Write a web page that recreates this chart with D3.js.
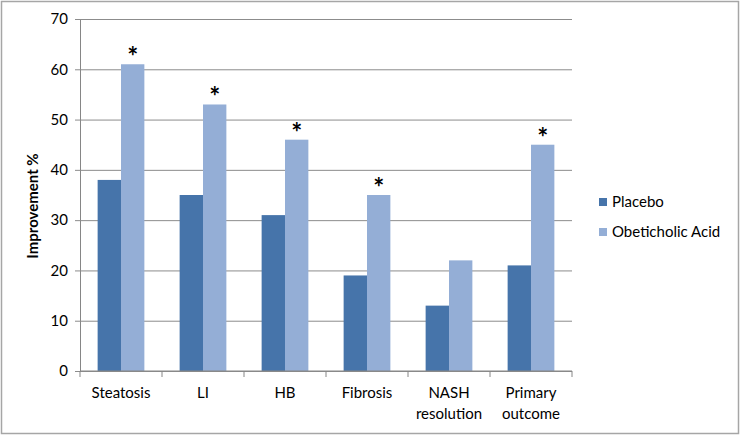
<!DOCTYPE html>
<html>
<head>
<meta charset="utf-8">
<script src="https://cdn.jsdelivr.net/npm/d3@7"></script>
<style>
  body { margin: 0; background: #fff; }
  svg text { font-family: Lato, "Open Sans", sans-serif; fill: #000; }
</style>
</head>
<body>
<svg id="chart" width="741" height="435"></svg>
<script>
// data
const categories = ["Steatosis", "LI", "HB", "Fibrosis", "NASH resolution", "Primary outcome"];
const placebo = [38, 35, 31, 19, 13, 21];
const obeticholic = [61, 53, 46, 35, 22, 45];
const significant = [true, true, true, true, false, true];
const seriesNames = ["Placebo", "Obeticholic Acid"];
const yTicks = [0, 10, 20, 30, 40, 50, 60, 70];

const colors = ["#4674aa", "#94aed6"];

var svg = d3.select("#chart");

// outer frame
svg.append("rect")
    .attr("x", 1.5).attr("y", 1.5)
    .attr("width", 737).attr("height", 432)
    .attr("fill", "#fff")
    .attr("stroke", "#a6a6a6")
    .attr("stroke-width", 1.5);

var margin = {top: 19, left: 80, right: 169, bottom: 64};
var width = 741 - margin.left - margin.right,
    height = 435 - margin.top - margin.bottom;

var g = svg.append("g")
    .attr("transform", "translate(" + margin.left + "," + margin.top + ")");

var x = d3.scaleBand()
    .domain(categories)
    .range([0, width])
    .paddingInner(0.43)
    .paddingOuter(0.215);

var xs = d3.scaleBand()
    .domain([0, 1])
    .range([0, x.bandwidth()]);

var y = d3.scaleLinear()
    .domain([0, 70])
    .range([height, 0]);

// gridlines + y axis
var yAxis = g.append("g")
    .call(d3.axisLeft(y).tickValues(yTicks).tickSize(-width).tickPadding(12));
yAxis.select(".domain").attr("stroke", "#868686");
yAxis.selectAll(".tick line")
    .attr("stroke", "#8c8c8c")
    .attr("x1", -5);
yAxis.selectAll(".tick text")
    .attr("font-size", 15);

// bars
var data = categories.map(function(c, i) {
    return {cat: c, vals: [placebo[i], obeticholic[i]], star: significant[i]};
});

var groups = g.selectAll(".grp")
    .data(data)
  .enter().append("g")
    .attr("class", "grp")
    .attr("transform", function(d) { return "translate(" + x(d.cat) + ",0)"; });

groups.selectAll("rect")
    .data(function(d) { return d.vals.map(function(v, k) { return {k: k, v: v}; }); })
  .enter().append("rect")
    .attr("x", function(d) { return xs(d.k); })
    .attr("width", xs.bandwidth())
    .attr("y", function(d) { return y(d.v); })
    .attr("height", function(d) { return height - y(d.v); })
    .attr("fill", function(d) { return colors[d.k]; });

groups.filter(function(d) { return d.star; })
  .append("text")
    .attr("x", xs(1) + xs.bandwidth() / 2)
    .attr("y", function(d) { return y(d.vals[1]) + 2; })
    .attr("text-anchor", "middle")
    .attr("font-size", 26)
    .attr("font-weight", "bold")
    .text("*");

// x axis baseline with ticks between categories
var xAxis = g.append("g")
    .attr("transform", "translate(0," + height + ")");
xAxis.append("line")
    .attr("x1", 0).attr("x2", width)
    .attr("stroke", "#868686");
xAxis.selectAll(".sep")
    .data(d3.range(categories.length + 1))
  .enter().append("line")
    .attr("x1", function(i) { return i * x.step(); })
    .attr("x2", function(i) { return i * x.step(); })
    .attr("y1", 0).attr("y2", 6)
    .attr("stroke", "#868686");

xAxis.selectAll(".lbl")
    .data(categories)
  .enter().append("text")
    .attr("text-anchor", "middle")
    .attr("font-size", 15)
    .attr("transform", function(d) { return "translate(" + (x(d) + x.bandwidth() / 2) + ",27)"; })
    .selectAll("tspan")
    .data(function(d) { return d.split(" "); })
  .enter().append("tspan")
    .attr("x", 0)
    .attr("dy", function(d, i) { return i ? 21 : 0; })
    .text(function(d) { return d; });

// y title
g.append("text")
    .attr("transform", "translate(-42," + (height / 2 + 11) + ") rotate(-90)")
    .attr("text-anchor", "middle")
    .attr("font-size", 15)
    .attr("font-weight", "bold")
    .text("Improvement %");

// legend
var legend = svg.append("g")
    .attr("transform", "translate(599,202)")
  .selectAll("g")
    .data(seriesNames)
  .enter().append("g")
    .attr("transform", function(d, i) { return "translate(0," + i * 30 + ")"; });

legend.append("rect")
    .attr("y", -4)
    .attr("width", 8).attr("height", 8)
    .attr("fill", function(d, i) { return colors[i]; });

legend.append("text")
    .attr("x", 13)
    .attr("dy", "0.35em")
    .attr("font-size", 15)
    .text(function(d) { return d; });
</script>
</body>
</html>
